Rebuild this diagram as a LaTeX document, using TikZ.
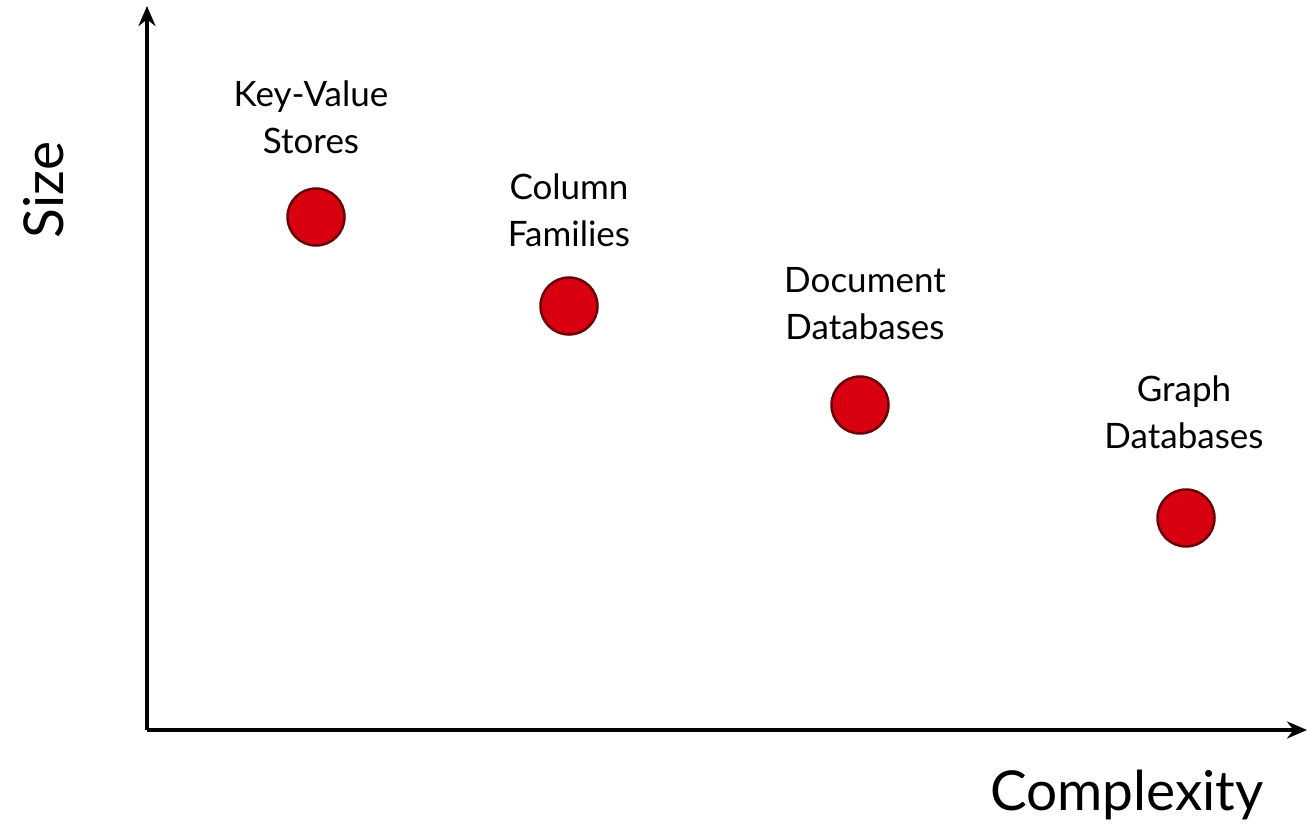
\documentclass[tikz,border=0pt]{standalone}
\usepackage{fontspec}
\setmainfont{Lato}
\usetikzlibrary{arrows.meta}
\definecolor{dotred}{HTML}{D80010}
\definecolor{dotedge}{HTML}{6A0006}
\begin{document}
\begin{tikzpicture}[x=1pt,y=-1pt,
  axis/.style={line width=3.5pt,-{Stealth[length=20pt,width=17pt]}},
  dot/.style={circle,fill=dotred,draw=dotedge,line width=2.5pt,minimum size=57pt,inner sep=0pt},
  lbl/.style={align=center,font=\fontsize{35}{47}\selectfont,anchor=center},
  axlbl/.style={font=\fontsize{55}{60}\selectfont}]
\useasboundingbox (0,0) rectangle (1307,834);
\coordinate (o) at (147,730);
\coordinate (ytop) at (147,6);
\coordinate (xend) at (1307,730);
\draw[axis] (o) -- (ytop);
\draw[axis] (o) -- (xend);
\node[dot] (kv) at (316,217) {};
\node[dot] (cf) at (569,306) {};
\node[dot] (dd) at (860,405) {};
\node[dot] (gd) at (1186,518) {};
\node[lbl] (kvl) at (311,117) {Key-Value\\Stores};
\node[lbl] (cfl) at (569,210) {Column\\Families};
\node[lbl] (ddl) at (865,304) {Document\\Databases};
\node[lbl] (gdl) at (1184,412) {Graph\\Databases};
\node[axlbl,rotate=90] (size) at (44,190) {Size};
\node[axlbl] (cx) at (1127,795) {Complexity};
\end{tikzpicture}
\end{document}
